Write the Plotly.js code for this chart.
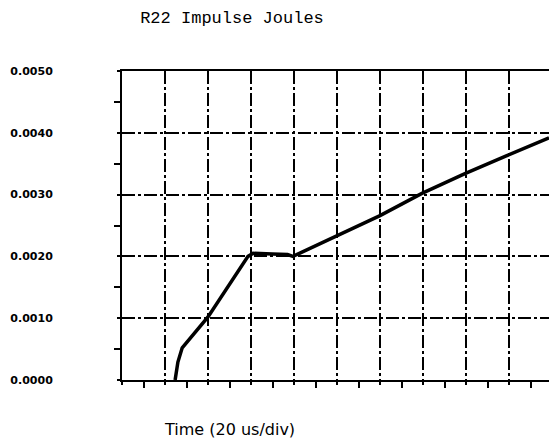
<!DOCTYPE html>
<html>
<head>
<meta charset="utf-8">
<script src="https://cdn.plot.ly/plotly-3.0.1.min.js"></script>
<style>html,body{margin:0;padding:0;background:#fff;}#chart{width:549px;height:440px;}</style>
</head>
<body>
<div id="chart"></div>
<script>
// Time in microseconds (20 us per division)
const timeUs = [24.7, 26, 28, 40, 58.6, 61, 70, 77, 79.5, 87.4, 120, 139.5, 159.5, 179, 198.6];
// Impulse energy in joules
const joules = [0, 0.00029, 0.00052, 0.00102, 0.0020, 0.00205, 0.00204, 0.00203, 0.0020, 0.00213, 0.00266, 0.00302, 0.00334, 0.00363, 0.00392];
const yTicks = [0, 0.001, 0.002, 0.003, 0.004, 0.005];
const yTickLabels = ['0.0000', '0.0010', '0.0020', '0.0030', '0.0040', '0.0050'];
const chartTitle = 'R22 Impulse Joules';
const xTitle = 'Time (20 us/div)';

const gridDash = '13px,3px,3px,3px';

const trace = {
  x: timeUs,
  y: joules,
  type: 'scatter',
  mode: 'lines',
  line: {color: '#000', width: 3.5},
  hoverinfo: 'skip',
  cliponaxis: true
};

const layout = {
  width: 549,
  height: 440,
  margin: {l: 122, r: 0, t: 71, b: 60},
  paper_bgcolor: '#fff',
  plot_bgcolor: '#fff',
  showlegend: false,
  title: {
    text: chartTitle,
    font: {family: 'Liberation Mono, Courier New, monospace', size: 17, color: '#000'},
    xref: 'container', x: 232 / 549, xanchor: 'center',
    yref: 'container', y: 1 - 17 / 440, yanchor: 'middle'
  },
  xaxis: {
    range: [0, 198.6],
    tickmode: 'linear', tick0: 0, dtick: 20,
    showticklabels: false,
    ticks: 'outside', ticklen: 3, tickwidth: 2, tickcolor: '#000',
    showgrid: true, gridcolor: '#000', gridwidth: 2, griddash: gridDash,
    zeroline: false,
    showline: true, linecolor: '#000', linewidth: 2, mirror: true,
    minor: {tick0: 0, dtick: 10, ticks: 'outside', ticklen: 6, tickwidth: 2, tickcolor: '#000', showgrid: false},
    fixedrange: true
  },
  yaxis: {
    range: [0, 0.005],
    tickmode: 'array', tickvals: yTicks, ticktext: yTickLabels,
    ticks: 'outside', ticklen: 3, tickwidth: 2, tickcolor: '#000',
    ticklabelstandoff: 62,
    tickfont: {family: 'DejaVu Sans, sans-serif', size: 11, color: '#000', weight: 'bold'},
    showgrid: true, gridcolor: '#000', gridwidth: 2, griddash: gridDash,
    zeroline: false,
    showline: true, linecolor: '#000', linewidth: 2, mirror: false,
    minor: {tickvals: [0.0005, 0.0015, 0.0025, 0.0035, 0.0045], ticks: 'outside', ticklen: 6, tickwidth: 2, tickcolor: '#000', showgrid: false},
    fixedrange: true
  },
  annotations: [{
    text: xTitle,
    xref: 'paper', yref: 'paper',
    x: (229 - 122) / 427, y: (380 - 429) / 309,
    xanchor: 'center', yanchor: 'middle',
    showarrow: false,
    font: {family: 'DejaVu Sans, sans-serif', size: 16, color: '#000'}
  }]
};

Plotly.newPlot('chart', [trace], layout, {displayModeBar: false, staticPlot: true});
</script>
</body>
</html>
